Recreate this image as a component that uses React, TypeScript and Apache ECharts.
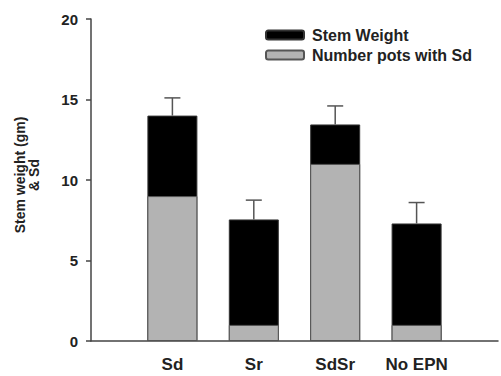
import React, { useEffect, useRef } from "react";
import * as echarts from "echarts";

const categories = ["Sd", "Sr", "SdSr", "No EPN"];
const stemWeight = [14, 7.55, 13.45, 7.3];
const stemWeightErr = [1.1, 1.2, 1.15, 1.3];
const numberPotsWithSd = [9, 1, 11, 1];
const yTicks = [0, 5, 10, 15, 20];
const yTitle = "Stem weight (gm)\n& Sd";

const FONT = "'Liberation Sans', Arial, sans-serif";

export default function App() {
  const ref = useRef<HTMLDivElement>(null);
  useEffect(() => {
    if (!ref.current) return;
    const chart = echarts.init(ref.current, undefined, { renderer: "svg" });
    const cats = ["", ...categories, ""];
    const pad = (arr: number[]) => [null, ...arr, null];
    const errData = categories.map((c, i) => [c, stemWeight[i], stemWeight[i] + stemWeightErr[i]]);
    chart.setOption({
      animation: false,
      backgroundColor: "#fff",
      textStyle: { fontFamily: FONT },
      grid: { left: 91, right: 1, top: 19, bottom: 35, containLabel: false },
      legend: {
        orient: "vertical",
        left: 265,
        top: 27,
        padding: 0,
        itemWidth: 38,
        itemHeight: 9,
        itemGap: 4,
        data: ["Stem Weight", "Number pots with Sd"],
        textStyle: { fontFamily: FONT, fontWeight: "bold", fontSize: 16, color: "#222", padding: [0, 0, 0, 3] },
      },
      graphic: [
        {
          type: "text",
          x: 27,
          y: 175,
          rotation: Math.PI / 2,
          style: {
            text: yTitle,
            fontFamily: FONT,
            fontWeight: "bold",
            fontSize: 14,
            lineHeight: 14,
            fill: "#222",
            align: "center",
            verticalAlign: "middle",
          },
        },
      ],
      xAxis: {
        type: "category",
        data: cats,
        boundaryGap: false,
        axisLine: { lineStyle: { color: "#444", width: 1.5 } },
        axisTick: { show: false },
        axisLabel: { fontFamily: FONT, fontWeight: "bold", fontSize: 17, color: "#222", margin: 15 },
        splitLine: { show: false },
      },
      yAxis: {
        type: "value",
        min: yTicks[0],
        max: yTicks[yTicks.length - 1],
        interval: 5,
        axisLine: { show: true, lineStyle: { color: "#444", width: 1.5 } },
        axisTick: { show: true, length: 5, lineStyle: { color: "#444", width: 1.5 } },
        axisLabel: { fontFamily: FONT, fontWeight: "bold", fontSize: 15, color: "#222", margin: 13 },
        splitLine: { show: false },
      },
      series: [
        {
          name: "Stem Weight",
          type: "bar",
          data: pad(stemWeight),
          barWidth: 50,
          barGap: "-100%",
          itemStyle: { color: "#000", borderColor: "#333", borderWidth: 1 },
        },
        {
          name: "Number pots with Sd",
          type: "bar",
          data: pad(numberPotsWithSd),
          barWidth: 50,
          barGap: "-100%",
          itemStyle: { color: "#b3b3b3", borderColor: "#555", borderWidth: 1 },
        },
        {
          name: "err",
          type: "custom",
          data: errData,
          z: 5,
          renderItem: (params: any, api: any) => {
            const x = api.value(0);
            const lo = api.coord([x, api.value(1)]);
            const hi = api.coord([x, api.value(2)]);
            const style = { stroke: "#555", lineWidth: 1.5 };
            return {
              type: "group",
              children: [
                { type: "line", shape: { x1: lo[0], y1: lo[1], x2: hi[0], y2: hi[1] }, style },
                { type: "line", shape: { x1: hi[0] - 8, y1: hi[1], x2: hi[0] + 8, y2: hi[1] }, style },
              ],
            };
          },
        },
      ],
    });
    return () => chart.dispose();
  }, []);
  return <div ref={ref} style={{ width: 501, height: 376, position: "absolute", left: 0, top: 0 }} />;
}
